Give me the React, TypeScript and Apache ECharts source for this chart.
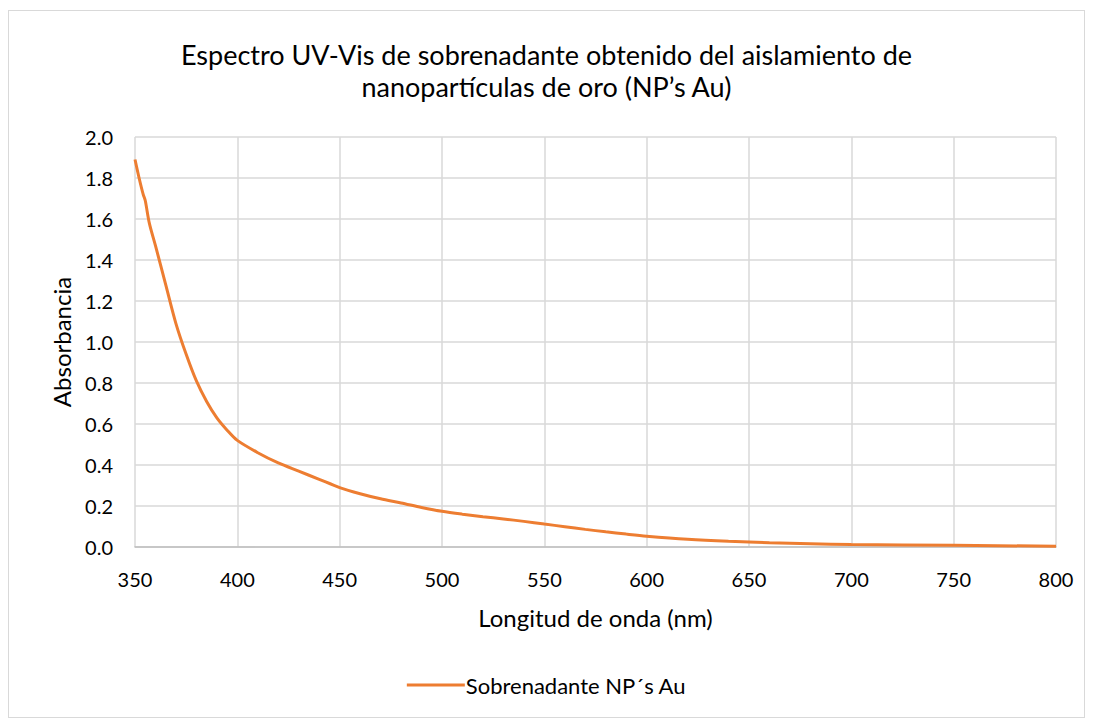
import React, { useEffect, useRef } from "react";
import * as echarts from "echarts";

const wavelengths = [350, 352, 354, 355, 357, 360, 365, 370, 375, 380, 385, 390, 395, 400, 410, 420, 430, 440, 450, 460, 470, 480, 490, 500, 510, 520, 530, 540, 550, 560, 570, 580, 590, 600, 620, 640, 660, 680, 700, 750, 800];
const absorbance = [1.89, 1.80, 1.72, 1.69, 1.58, 1.47, 1.28, 1.09, 0.94, 0.81, 0.71, 0.63, 0.57, 0.52, 0.46, 0.41, 0.37, 0.33, 0.29, 0.26, 0.235, 0.215, 0.193, 0.174, 0.16, 0.148, 0.137, 0.125, 0.112, 0.099, 0.086, 0.074, 0.063, 0.053, 0.038, 0.028, 0.021, 0.016, 0.012, 0.008, 0.004];
const seriesName = "Sobrenadante NP´s Au";
const titleText = "Espectro UV-Vis de sobrenadante obtenido del aislamiento de\nnanopartículas de oro (NP’s Au)";

const FONT = "Lato, 'Noto Sans', sans-serif";

export default function App() {
  const ref = useRef<HTMLDivElement>(null);
  useEffect(() => {
    if (!ref.current) return;
    const chart = echarts.init(ref.current, null, { renderer: "svg" });
    chart.setOption({
      animation: false,
      backgroundColor: "#ffffff",
      title: {
        text: titleText,
        left: "center",
        top: 22,
        textStyle: { fontFamily: FONT, fontSize: 27, fontWeight: "normal", color: "#000000", lineHeight: 32 },
      },
      legend: {
        bottom: 16,
        left: "center",
        itemWidth: 58,
        itemHeight: 3,
        icon: "rect",
        itemGap: 4,
        textStyle: { fontFamily: FONT, fontSize: 22, color: "#000000", padding: [0, 0, 0, -4] },
        data: [seriesName],
      },
      grid: { left: 126, top: 126, right: 28, bottom: 170 },
      xAxis: {
        type: "value",
        min: 350,
        max: 800,
        interval: 50,
        name: "Longitud de onda (nm)",
        nameLocation: "middle",
        nameGap: 58,
        nameTextStyle: { fontFamily: FONT, fontSize: 24, color: "#000000" },
        axisLine: { show: true, lineStyle: { color: "#bfbfbf", width: 1.5 } },
        axisTick: { show: false },
        axisLabel: { fontFamily: FONT, fontSize: 20, color: "#000000", margin: 22 },
        splitLine: { show: true, lineStyle: { color: "#d9d9d9", width: 1.5 } },
      },
      yAxis: {
        type: "value",
        min: 0,
        max: 2,
        interval: 0.2,
        name: "Absorbancia",
        nameLocation: "middle",
        nameGap: 62,
        nameTextStyle: { fontFamily: FONT, fontSize: 24, color: "#000000" },
        axisLine: { show: false },
        axisTick: { show: false },
        axisLabel: { fontFamily: FONT, fontSize: 20, color: "#000000", margin: 22, formatter: (v: number) => v.toFixed(1) },
        splitLine: { show: true, lineStyle: { color: "#d9d9d9", width: 1.5 } },
      },
      series: [
        {
          name: seriesName,
          type: "line",
          data: wavelengths.map((w, i) => [w, absorbance[i]]),
          smooth: 0.3,
          showSymbol: false,
          lineStyle: { color: "#ED7D31", width: 3 },
          itemStyle: { color: "#ED7D31" },
        },
      ],
    });
    return () => chart.dispose();
  }, []);
  return (
    <div
      ref={ref}
      style={{ width: 1077, height: 708, marginTop: 2, border: "1px solid #d9d9d9", boxSizing: "border-box" }}
    />
  );
}
